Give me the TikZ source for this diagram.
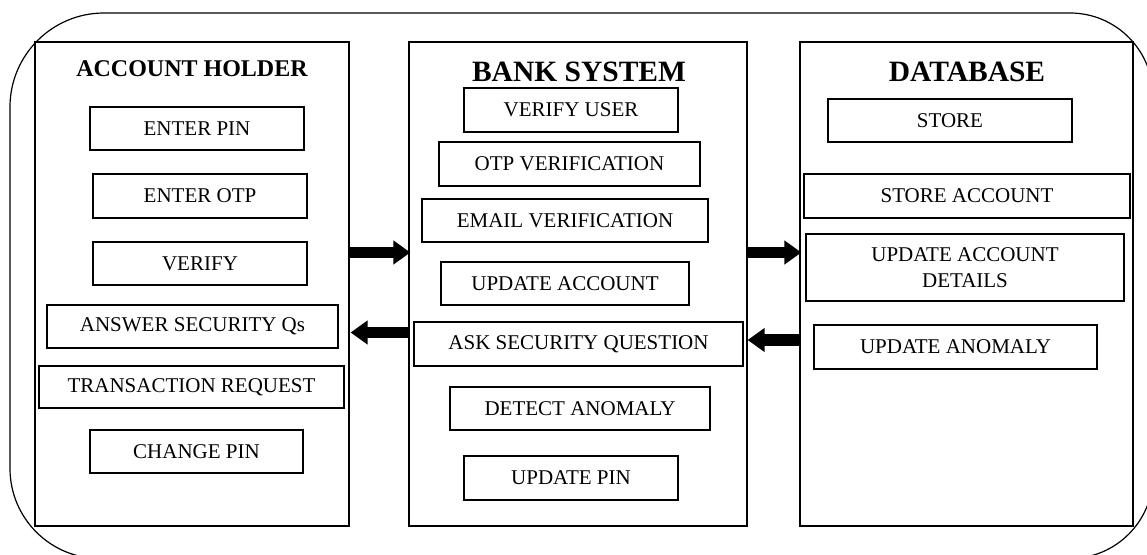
\documentclass[tikz,border=0pt]{standalone}
\usepackage{fontspec}
\setmainfont{Liberation Serif}
\usetikzlibrary{arrows.meta}
\begin{document}
\begin{tikzpicture}[x=1pt,y=-1pt,
  col/.style={draw,line width=1.2pt,inner sep=0pt},
  item/.style={draw,line width=1.2pt,inner sep=0pt,align=center,font=\fontsize{21}{23.5}\selectfont},
  ttl/.style={inner sep=0pt,font=\bfseries\fontsize{29.5}{32}\selectfont},
  bigarrow/.style={line width=11.5pt,-{Triangle[width=23pt,length=17pt]}}]
\useasboundingbox (0,0) rectangle (1147,554);
\begin{scope}
\clip (0,0) rectangle (1147,554);
\draw[line width=1.2pt] (10,107) .. controls (10,55.1) and (52.1,13) .. (104,13)
  -- (1070,13) .. controls (1115.8,13) and (1153,50.2) .. (1153,96)
  -- (1153,475.5) .. controls (1153,521.3) and (1115.8,558.5) .. (1070,558.5)
  -- (100,558.5) .. controls (50.3,558.5) and (10,518.2) .. (10,468.5) -- cycle;
\end{scope}
% columns
\node[col,minimum width=314pt,minimum height=484pt] (colA) at (192,284) {};
\node[col,minimum width=338pt,minimum height=484pt] (colB) at (578,284) {};
\node[col,minimum width=333pt,minimum height=484pt] (colC) at (966.5,284) {};
% titles
\node[ttl,font=\bfseries\fontsize{24}{27}\selectfont] (tA) at (192,69) {ACCOUNT HOLDER};
\node[ttl] (tB) at (579,72) {BANK SYSTEM};
\node[ttl] (tC) at (967,72) {DATABASE};
% account holder
\node[item,minimum width=214pt,minimum height=43pt] (a1) at (197,128.5) {ENTER PIN};
\node[item,minimum width=214pt,minimum height=44pt] (a2) at (200,196) {ENTER OTP};
\node[item,minimum width=214pt,minimum height=43pt] (a3) at (200,263.5) {VERIFY};
\node[item,minimum width=291pt,minimum height=43pt] (a4) at (192.5,326.5) {ANSWER SECURITY Qs};
\node[item,minimum width=305pt,minimum height=42pt] (a5) at (191.5,387) {TRANSACTION REQUEST};
\node[item,minimum width=213pt,minimum height=43pt] (a6) at (196.5,451.5) {CHANGE PIN};
% bank system
\node[item,minimum width=214pt,minimum height=44pt] (b1) at (571,110) {VERIFY USER};
\node[item,minimum width=261pt,minimum height=44pt] (b2) at (569.5,164) {OTP VERIFICATION};
\node[item,minimum width=286pt,minimum height=43pt] (b3) at (565,220.5) {EMAIL VERIFICATION};
\node[item,minimum width=248pt,minimum height=43pt] (b4) at (565,283.5) {UPDATE ACCOUNT};
\node[item,minimum width=329pt,minimum height=44pt] (b5) at (578.5,344) {ASK SECURITY QUESTION};
\node[item,minimum width=260pt,minimum height=43pt] (b6) at (580,408.5) {DETECT ANOMALY};
\node[item,minimum width=214pt,minimum height=44pt] (b7) at (571,478) {UPDATE PIN};
% database
\node[item,minimum width=244pt,minimum height=43pt] (c1) at (950,120.5) {STORE};
\node[item,minimum width=326pt,minimum height=44pt] (c2) at (967,196) {STORE ACCOUNT};
\node[item,minimum width=318pt,minimum height=67pt] (c3) at (965,267.5) {UPDATE ACCOUNT\\[2pt]DETAILS};
\node[item,minimum width=283pt,minimum height=44pt] (c4) at (955.5,347) {UPDATE ANOMALY};
% arrows
\coordinate (y1) at (0,252.5);
\coordinate (y2) at (0,332.5);
\coordinate (y3) at (0,340);
\draw[bigarrow] (colA.east |- y1) -- ([xshift=2pt]colB.west |- y1);
\draw[bigarrow] (colB.east |- y1) -- ([xshift=2pt]colC.west |- y1);
\draw[bigarrow] (colB.west |- y2) -- ([xshift=1pt]colA.east |- y2);
\draw[bigarrow] (colC.west |- y3) -- (colB.east |- y3);
\end{tikzpicture}
\end{document}
